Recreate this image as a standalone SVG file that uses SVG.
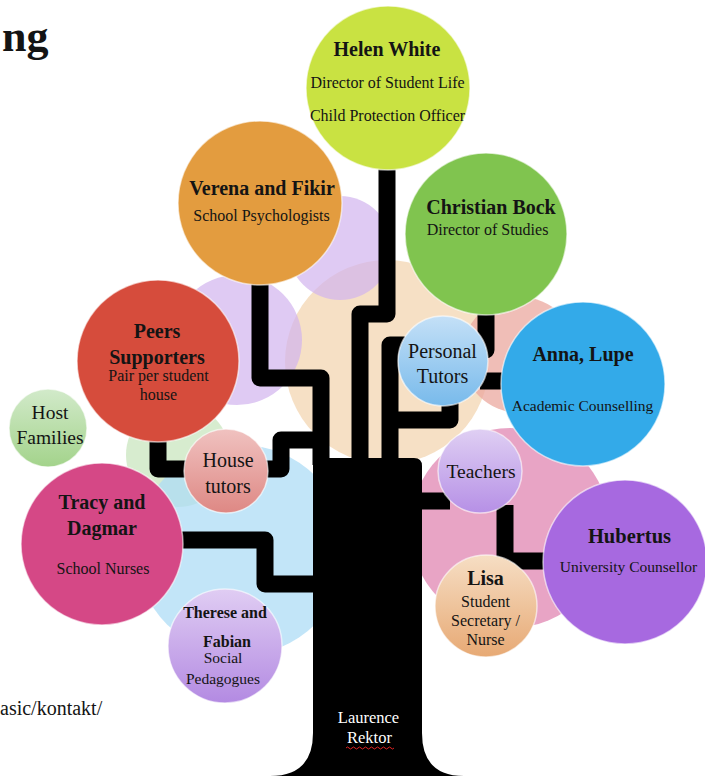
<svg xmlns="http://www.w3.org/2000/svg" width="705" height="776" viewBox="0 0 705 776">
<style>
text{font-family:"Liberation Serif","Times New Roman",serif;fill:#141414;text-anchor:middle}
.nm{font-weight:bold;font-size:20px}
.sb{font-size:16px}
.lg{font-size:20px}
.sm{font-size:15.5px}
.node{stroke:#ffffff;stroke-opacity:0.6;stroke-width:1.5}
.conn{fill:none;stroke:#000;stroke-width:17;stroke-linejoin:round;stroke-linecap:butt}
.bg{stroke:none}
</style>
<defs>
<linearGradient id="gHost" x1="0" y1="0" x2="0" y2="1"><stop offset="0" stop-color="#D2EACA"/><stop offset="1" stop-color="#A3D38B"/></linearGradient>
<linearGradient id="gPers" x1="0" y1="0" x2="0" y2="1"><stop offset="0" stop-color="#C4E0F7"/><stop offset="1" stop-color="#78BAEB"/></linearGradient>
<linearGradient id="gHouse" x1="0" y1="0" x2="0" y2="1"><stop offset="0" stop-color="#F0C2C0"/><stop offset="1" stop-color="#DE8884"/></linearGradient>
<linearGradient id="gTeach" x1="0" y1="0" x2="0" y2="1"><stop offset="0" stop-color="#DFCFF3"/><stop offset="1" stop-color="#B690E6"/></linearGradient>
<linearGradient id="gLisa" x1="0" y1="0" x2="0" y2="1"><stop offset="0" stop-color="#F6DEC4"/><stop offset="1" stop-color="#E7A974"/></linearGradient>
<linearGradient id="gTher" x1="0" y1="0" x2="0" y2="1"><stop offset="0" stop-color="#E0CDF3"/><stop offset="1" stop-color="#B38AE2"/></linearGradient>
</defs>
<rect width="705" height="776" fill="#ffffff"/>

<g id="background">
<circle class="bg" cx="387" cy="362" r="102" fill="#F2D4AE" fill-opacity="0.72"/>
<circle class="bg" cx="340" cy="248" r="52" fill="#D1B3EE" fill-opacity="0.7"/>
<circle class="bg" cx="237" cy="340" r="65" fill="#D1B3EE" fill-opacity="0.7"/>
<circle class="bg" cx="520" cy="355" r="58" fill="#EBA89F" fill-opacity="0.75"/>
<circle class="bg" cx="510" cy="528" r="100" fill="#E28DB6" fill-opacity="0.8"/>
<circle class="bg" cx="178" cy="455" r="52" fill="#C6E4BA" fill-opacity="0.7"/>
<circle class="bg" cx="241" cy="550" r="105" fill="#AEDCF6" fill-opacity="0.75"/>
</g>

<g id="connectors">
<path class="conn" d="M387,165 V314 H360 V465"/>
<path class="conn" d="M260,280 V378 H321 V465"/>
<path class="conn" d="M405,345 H390 V465"/>
<path class="conn" d="M450,398 V420 H390"/>
<path class="conn" d="M486,310 V350 H465"/>
<path class="conn" d="M510,381 H480"/>
<path class="conn" d="M262,469 H281 V440 H320"/>
<path class="conn" d="M158,438 V469 H192"/>
<path class="conn" d="M180,540 H265 V584 H320"/>
<path class="conn" d="M415,501 H450"/>
<path class="conn" d="M505,505 V561 H552"/>
</g>

<g id="trunk">
<path d="M313,466 Q313,458 321,458 H414 Q422,458 422,466 V733 Q422,776 464,776 H270 Q313,776 313,733 Z" fill="#000"/>
<text x="368.5" y="723" style="fill:#ffffff;font-size:16.5px">Laurence</text>
<text x="369.5" y="743" style="fill:#ffffff;font-size:16.5px">Rektor</text>
<path d="M346,748 q1.5,-2 3,0 t3,0 t3,0 t3,0 t3,0 t3,0 t3,0 t3,0 t3,0 t3,0 t3,0 t3,0 t3,0 t3,0 t3,0 t3,0" fill="none" stroke="#E02424" stroke-width="1"/>
</g>

<g id="helen">
<circle class="node" cx="388" cy="88" r="82" fill="#C9E242"/>
<text class="nm" x="387" y="56">Helen White</text>
<text class="sb" x="387.5" y="88">Director of Student Life</text>
<text class="sb" x="387.5" y="121">Child Protection Officer</text>
</g>

<g id="verena">
<circle class="node" cx="260" cy="203" r="82" fill="#E39C3F"/>
<text class="nm" x="262" y="195">Verena and Fikir</text>
<text class="sb" x="261.5" y="221">School Psychologists</text>
</g>

<g id="christian">
<circle class="node" cx="486" cy="234" r="81" fill="#80C44F"/>
<text class="nm" x="491" y="214">Christian Bock</text>
<text class="sb" x="487.5" y="235">Director of Studies</text>
</g>

<g id="peers">
<circle class="node" cx="158" cy="361" r="81" fill="#D64C3C"/>
<text class="nm" x="157" y="338">Peers</text>
<text class="nm" x="157" y="364">Supporters</text>
<text class="sb" x="158.5" y="381">Pair per student</text>
<text class="sb" x="158.5" y="400">house</text>
</g>

<g id="host">
<circle class="node" cx="48" cy="428" r="39" fill="url(#gHost)"/>
<text class="lg" x="50" y="419" style="font-size:19.5px">Host</text>
<text class="lg" x="50" y="444" style="font-size:19.5px">Families</text>
</g>

<g id="personal">
<circle class="node" cx="443" cy="361" r="45" fill="url(#gPers)"/>
<text class="lg" x="442.5" y="358">Personal</text>
<text class="lg" x="442.5" y="383">Tutors</text>
</g>

<g id="anna">
<circle class="node" cx="583" cy="384" r="82" fill="#33AAE9"/>
<text class="nm" x="583" y="361">Anna, Lupe</text>
<text class="sm" x="582.5" y="411">Academic Counselling</text>
</g>

<g id="house">
<circle class="node" cx="226" cy="471" r="42" fill="url(#gHouse)"/>
<text class="lg" x="228" y="467">House</text>
<text class="lg" x="228" y="493">tutors</text>
</g>

<g id="teachers">
<circle class="node" cx="480" cy="471" r="42" fill="url(#gTeach)"/>
<text class="lg" x="481" y="478" style="font-size:19.5px">Teachers</text>
</g>

<g id="tracy">
<circle class="node" cx="102" cy="544" r="81" fill="#D54886"/>
<text class="nm" x="102" y="509">Tracy and</text>
<text class="nm" x="102" y="535">Dagmar</text>
<text class="sb" x="103" y="574">School Nurses</text>
</g>

<g id="hubertus">
<circle class="node" cx="625" cy="562" r="82" fill="#A769E0"/>
<text class="nm" x="629.5" y="543" style="font-size:20.5px">Hubertus</text>
<text class="sm" x="628.5" y="572">University Counsellor</text>
</g>

<g id="lisa">
<circle class="node" cx="486" cy="606" r="51" fill="url(#gLisa)"/>
<text class="nm" x="485.5" y="585">Lisa</text>
<text class="sb" x="485.5" y="607">Student</text>
<text class="sb" x="485.5" y="626">Secretary /</text>
<text class="sb" x="485.5" y="645">Nurse</text>
</g>

<g id="therese">
<circle class="node" cx="225" cy="646" r="57" fill="url(#gTher)"/>
<text class="nm" x="225" y="618" style="font-size:16px">Therese and</text>
<text class="nm" x="227" y="647" style="font-size:16px">Fabian</text>
<text class="sm" x="223" y="663">Social</text>
<text class="sm" x="223" y="684">Pedagogues</text>
</g>

<g id="page-text">
<text x="2" y="51" style="font-weight:bold;font-size:44px;text-anchor:start">ng</text>
<text x="0" y="715" style="font-size:20px;text-anchor:start">asic/kontakt/</text>
</g>
</svg>
